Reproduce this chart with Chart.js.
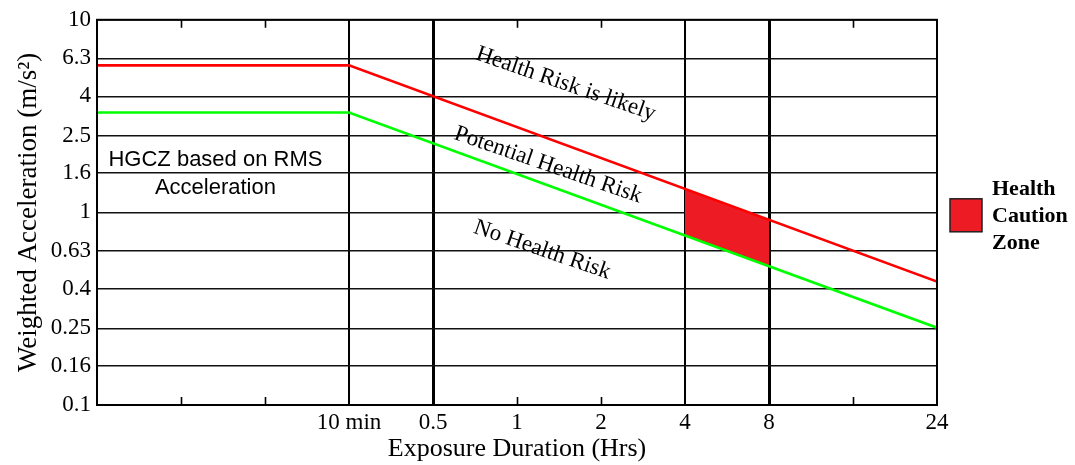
<!DOCTYPE html>
<html>
<head>
<meta charset="utf-8">
<title>Health Guidance Caution Zone</title>
<script src="https://cdn.jsdelivr.net/npm/chart.js@4.4.1/dist/chart.umd.min.js"></script>
<style>
  html, body { margin: 0; padding: 0; background: #ffffff; }
  canvas { display: block; }
</style>
</head>
<body>
<canvas id="chart" width="1075" height="465"></canvas>
<script>
// Exposure-duration axis: equally spaced steps, labelled at selected steps
const xTickPositions = [3, 4, 5, 6, 7, 8, 10];
const xTickLabels = ['10 min', '0.5', '1', '2', '4', '8', '24'];
const xGridLines = [3, 4, 7, 8];
const xHeavyLines = [4, 8];
const xMinorTicks = [1, 2, 5, 6, 9];

// Weighted acceleration axis (log scale)
const yTicks = [0.1, 0.16, 0.25, 0.4, 0.63, 1, 1.6, 2.5, 4, 6.3, 10];
const yTickLabels = ['0.1', '0.16', '0.25', '0.4', '0.63', '1', '1.6', '2.5', '4', '6.3', '10'];

// Zone boundaries
const limitX = [0, 3, 10];
const upperLimit = [5.8, 5.8, 0.437];
const lowerLimit = [3.3, 3.3, 0.252];

// Health caution zone for 4 to 8 hours of exposure
const zoneX = [7, 8];
const zoneUpper = [1.32, 0.915];
const zoneLower = [0.753, 0.52];

const SERIF = '"Liberation Serif", "Times New Roman", serif';
const SANS = '"Liberation Sans", Arial, sans-serif';
const ZONE_RED = '#ed1c24';

const toPoints = (xs, ys) => xs.map((x, i) => ({ x: x, y: ys[i] }));

// Text placed inside the plot, anchored in axis units
const regionNotes = [
  { text: 'Health Risk is likely', x: 5.58, y: 4.64 },
  { text: 'Potential Health Risk', x: 5.37, y: 1.76 },
  { text: 'No Health Risk', x: 5.30, y: 0.638 }
];
const rmsNote = { lines: ['HGCZ based on RMS', 'Acceleration'], x: 1.41, y: 1.585 };
const legendItem = ['Health', 'Caution', 'Zone'];

const decorations = {
  id: 'decorations',
  afterDraw(chart) {
    const { ctx, chartArea: a, scales } = chart;
    const xs = scales.x, ys = scales.y;
    ctx.save();

    // minor tick marks on top and bottom edges
    ctx.strokeStyle = '#000';
    ctx.lineWidth = 1.6;
    xMinorTicks.forEach(v => {
      const px = Math.round(xs.getPixelForValue(v)) + 0.5;
      ctx.beginPath();
      ctx.moveTo(px, a.bottom); ctx.lineTo(px, a.bottom - 8);
      ctx.moveTo(px, a.top); ctx.lineTo(px, a.top + 8);
      ctx.stroke();
    });

    // plot frame
    ctx.lineWidth = 2;
    ctx.strokeRect(a.left, a.top, a.right - a.left, a.bottom - a.top);

    // rotated region labels
    ctx.fillStyle = '#000';
    ctx.font = '23px ' + SERIF;
    ctx.textAlign = 'center';
    ctx.textBaseline = 'middle';
    regionNotes.forEach(n => {
      ctx.save();
      ctx.translate(xs.getPixelForValue(n.x), ys.getPixelForValue(n.y));
      ctx.rotate(19 * Math.PI / 180);
      ctx.fillText(n.text, 0, 0);
      ctx.restore();
    });

    // RMS note
    ctx.font = '22px ' + SANS;
    const cx = xs.getPixelForValue(rmsNote.x);
    const cy = ys.getPixelForValue(rmsNote.y);
    ctx.fillText(rmsNote.lines[0], cx, cy - 14);
    ctx.fillText(rmsNote.lines[1], cx, cy + 14);

    // legend
    const sx = a.right + 13, sy = a.top + 179;
    ctx.fillStyle = ZONE_RED;
    ctx.fillRect(sx, sy, 32, 33);
    ctx.strokeStyle = '#231f20';
    ctx.lineWidth = 1.5;
    ctx.strokeRect(sx, sy, 32, 33);
    ctx.fillStyle = '#000';
    ctx.font = 'bold 22px ' + SERIF;
    ctx.textAlign = 'left';
    legendItem.forEach((t, i) => ctx.fillText(t, a.right + 55, a.top + 170 + i * 27));

    ctx.restore();
  }
};

new Chart(document.getElementById('chart'), {
  type: 'line',
  data: {
    datasets: [
      {
        label: 'Upper limit',
        data: toPoints(limitX, upperLimit),
        borderColor: '#ff0000',
        borderWidth: 2.6,
        pointRadius: 0,
        fill: false,
        tension: 0
      },
      {
        label: 'Lower limit',
        data: toPoints(limitX, lowerLimit),
        borderColor: '#00ff00',
        borderWidth: 2.6,
        pointRadius: 0,
        fill: false,
        tension: 0
      },
      {
        label: 'Health Caution Zone',
        data: toPoints(zoneX, zoneUpper),
        borderColor: 'rgba(0,0,0,0)',
        borderWidth: 0,
        pointRadius: 0,
        backgroundColor: ZONE_RED,
        fill: '+1',
        tension: 0
      },
      {
        label: 'zone lower edge',
        data: toPoints(zoneX, zoneLower),
        borderColor: 'rgba(0,0,0,0)',
        borderWidth: 0,
        pointRadius: 0,
        fill: false,
        tension: 0
      }
    ]
  },
  options: {
    responsive: false,
    animation: false,
    devicePixelRatio: 1,
    layout: { padding: { left: 0, right: 138, top: 15, bottom: 0 } },
    plugins: {
      legend: { display: false },
      tooltip: { enabled: false }
    },
    scales: {
      x: {
        type: 'linear',
        min: 0,
        max: 10,
        afterFit(scale) { scale.height = 60; },
        ticks: {
          stepSize: 1,
          autoSkip: false,
          maxRotation: 0,
          padding: 4,
          color: '#000',
          font: { family: SERIF, size: 23 },
          callback(value) {
            const i = xTickPositions.indexOf(value);
            return i >= 0 ? xTickLabels[i] : '';
          }
        },
        grid: {
          drawTicks: false,
          color: ctx => (ctx.tick && xGridLines.includes(ctx.tick.value)) ? '#000' : 'rgba(0,0,0,0)',
          lineWidth: ctx => (ctx.tick && xHeavyLines.includes(ctx.tick.value)) ? 3 : 2
        },
        border: { display: false },
        title: {
          display: true,
          text: 'Exposure Duration (Hrs)',
          color: '#000',
          font: { family: SERIF, size: 26 },
          padding: { top: 0, bottom: 0 }
        }
      },
      y: {
        type: 'logarithmic',
        min: 0.1,
        max: 10,
        afterFit(scale) { scale.width = 97; },
        afterBuildTicks(scale) {
          scale.ticks = yTicks.map(v => ({ value: v }));
        },
        ticks: {
          autoSkip: false,
          padding: 6,
          color: '#000',
          font: { family: SERIF, size: 23 },
          callback(value) {
            const i = yTicks.indexOf(value);
            return i >= 0 ? yTickLabels[i] : '';
          }
        },
        grid: {
          drawTicks: false,
          color: '#111',
          lineWidth: 1.6
        },
        border: { display: false },
        title: {
          display: true,
          text: 'Weighted Acceleration (m/s²)',
          color: '#000',
          font: { family: SERIF, size: 27 },
          padding: { top: 13, bottom: 0 }
        }
      }
    }
  },
  plugins: [decorations]
});
</script>
</body>
</html>
